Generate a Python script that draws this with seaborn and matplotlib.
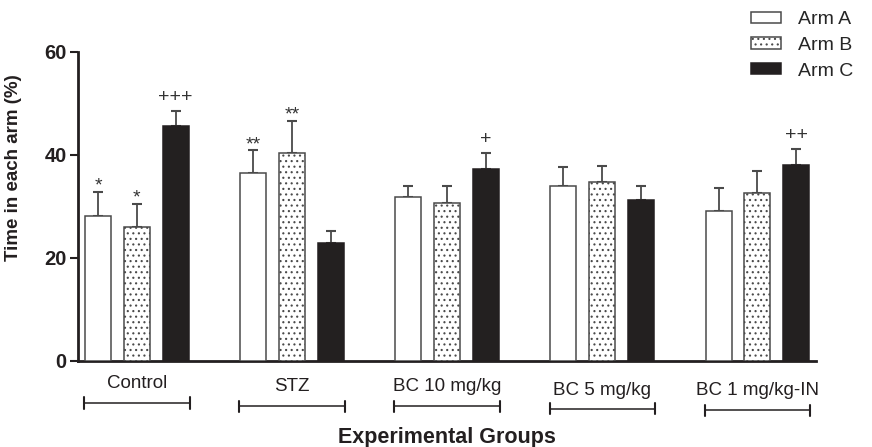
import pandas as pd
import numpy as np
import matplotlib
matplotlib.use('Agg')
import matplotlib.pyplot as plt
import seaborn as sns
from matplotlib.patches import Patch

# Datos (media y error estándar, % de tiempo en cada brazo)
grupos = ['Control', 'STZ', 'BC 10 mg/kg', 'BC 5 mg/kg', 'BC 1 mg/kg-IN']
brazos = ['Arm A', 'Arm B', 'Arm C']
arm_a = [28.2, 36.6, 31.9, 33.9, 29.1]
arm_b = [26.0, 40.4, 30.7, 34.8, 32.6]
arm_c = [45.7, 22.9, 37.2, 31.2, 38.1]
err_a = [4.7, 4.3, 2.0, 3.7, 4.4]
err_b = [4.5, 6.2, 3.2, 3.1, 4.3]
err_c = [2.8, 2.3, 3.2, 2.7, 3.1]
sig_a = ['*', '**', '', '', '']
sig_b = ['*', '**', '', '', '']
sig_c = ['+++', '', '+', '', '++']

df = pd.DataFrame({
    'grupo': grupos * 3,
    'brazo': np.repeat(brazos, len(grupos)),
    'tiempo': arm_a + arm_b + arm_c,
    'err': err_a + err_b + err_c,
    'sig': sig_a + sig_b + sig_c,
})

sns.set_style('ticks')
plt.rcParams['font.family'] = ['Liberation Sans', 'DejaVu Sans']
plt.rcParams['hatch.linewidth'] = 0.8

negro = '#231f20'
borde = '#4a4a4a'
colores = {'Arm A': 'white', 'Arm B': 'white', 'Arm C': negro}

fig = plt.figure(figsize=(8.72, 4.47), dpi=100)
ax = fig.add_axes([0.0894, 0.1924, 0.8464, 0.6913])

sns.barplot(data=df, x='grupo', y='tiempo', hue='brazo', order=grupos,
            hue_order=brazos, palette=colores, width=0.75, gap=0.33,
            edgecolor=borde, linewidth=1.1, errorbar=None, legend=False,
            ax=ax, zorder=3)

# barras en orden brazo -> grupo, igual que df
for p, (_, fila) in zip(ax.patches, df.iterrows()):
    if fila['brazo'] == 'Arm C':
        p.set_edgecolor(negro)
    if fila['brazo'] == 'Arm B':
        p.set_hatch('...')
    xc = p.get_x() + p.get_width() / 2
    top = p.get_height()
    ax.errorbar(xc, top, yerr=[[0], [fila['err']]], fmt='none',
                ecolor=borde, elinewidth=1.3, capsize=3.4, capthick=1.5,
                zorder=2)
    if fila['sig']:
        off = 6.5 if '+' in fila['sig'] else 0.8
        ax.annotate(fila['sig'], xy=(xc, top + fila['err']), xytext=(0, off),
                    textcoords='offset points', ha='center', va='baseline',
                    fontsize=14, color='#333333')

ax.set_xlim(-0.38, 4.378)
ax.set_ylim(0, 60)
ax.set_yticks([0, 20, 40, 60])
ax.tick_params(axis='y', length=6, width=1.5, pad=2, labelsize=14.5,
               color=negro, labelcolor=negro)
for lab in ax.get_yticklabels():
    lab.set_fontweight('bold')
ax.tick_params(axis='x', bottom=False, labelbottom=False)
sns.despine(ax=ax)
for s in ['left', 'bottom']:
    ax.spines[s].set_linewidth(2)
    ax.spines[s].set_color(negro)

ax.set_ylabel('Time in each arm (%)', fontsize=13.5, fontweight='bold',
              color=negro)
ax.yaxis.set_label_coords(-0.076, 0.625)
ax.set_xlabel('Experimental Groups', fontsize=15.5, fontweight='bold',
              color=negro)
ax.xaxis.label.set_va('center')
ax.xaxis.set_label_coords(0.5, -0.246)

# etiquetas de grupo con su corchete
trans = ax.get_xaxis_transform()
y_txt = [-0.074, -0.084, -0.084, -0.097, -0.097]
y_cor = [-0.136, -0.146, -0.146, -0.155, -0.159]
for i, g in enumerate(grupos):
    ax.text(i, y_txt[i], g, transform=trans, ha='center', va='center',
            fontsize=13.5, color=negro, clip_on=False)
    ax.plot([i - 0.34, i + 0.34], [y_cor[i]] * 2, transform=trans,
            color=negro, lw=1.1, clip_on=False)
    for xe in [i - 0.34, i + 0.34]:
        ax.plot([xe, xe], [y_cor[i] - 0.018, y_cor[i] + 0.018],
                transform=trans, color=negro, lw=1.5, clip_on=False)

handles = [Patch(facecolor='white', edgecolor=borde, lw=1.1),
           Patch(facecolor='white', edgecolor=borde, lw=1.1, hatch='...'),
           Patch(facecolor=negro, edgecolor=negro, lw=1.1)]
fig.legend(handles, brazos, loc='upper left', bbox_to_anchor=(0.861, 0.975),
           frameon=False, fontsize=14, handlelength=1.55, handleheight=0.5,
           handletextpad=0.87, labelspacing=0.45, borderpad=0,
           borderaxespad=0)

fig.savefig('out.png', dpi=100)
